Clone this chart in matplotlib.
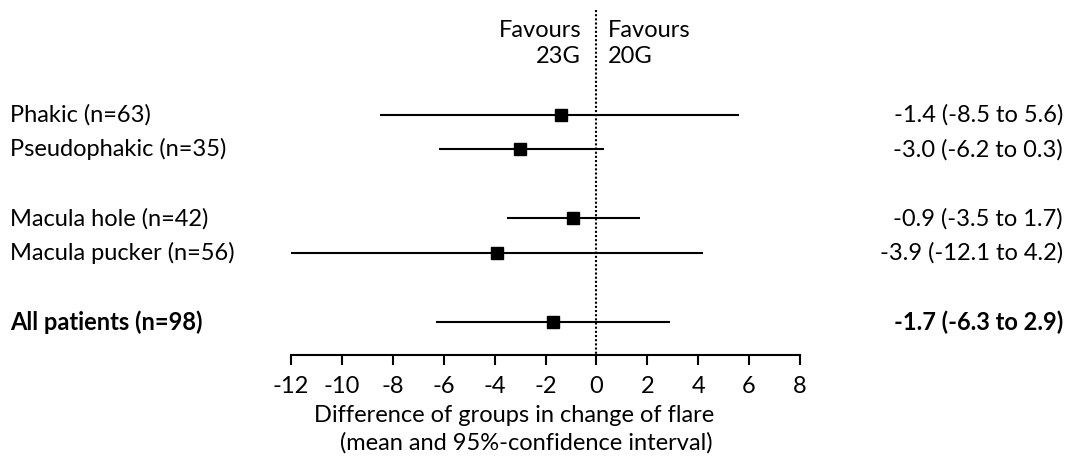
import matplotlib
matplotlib.use('Agg')
import matplotlib.pyplot as plt
import matplotlib.transforms as mtransforms

# data
labels = ['Phakic (n=63)', 'Pseudophakic (n=35)', 'Macula hole (n=42)',
          'Macula pucker (n=56)', 'All patients (n=98)']
means = [-1.4, -3.0, -0.9, -3.9, -1.7]
lower = [-8.5, -6.2, -3.5, -12.1, -6.3]
upper = [5.6, 0.3, 1.7, 4.2, 2.9]
rows = [0, 1, 3, 4, 6]
bold = [False, False, False, False, True]
xticks = list(range(-12, 9, 2))

plt.rcParams['font.family'] = ['Lato', 'DejaVu Sans']
fs = 17

fig = plt.figure(figsize=(10.73, 4.61), dpi=100)
W, H = 1073, 461
ax = fig.add_axes([291 / W, (H - 355) / H, 509 / W, 355 / H])

for r, m, lo, hi in zip(rows, means, lower, upper):
    ax.plot([lo, hi], [r, r], color='black', lw=1.5, solid_capstyle='butt')
    ax.plot(m, r, marker='s', color='black', markersize=8.5)

# line of no difference
ax.plot([0, 0], [-3.05, 7.0], color='black', lw=1.5, linestyle=(0, (1, 1)))

ax.set_xlim(-12, 8)
ax.set_ylim(6.96, -3.33)
ax.set_xticks(xticks)
ax.set_xticklabels([str(t) for t in xticks])
ax.set_yticks([])
for s in ['top', 'left', 'right']:
    ax.spines[s].set_visible(False)
ax.spines['bottom'].set_linewidth(1.5)
ax.tick_params(axis='x', direction='out', length=7, width=1.5, labelsize=fs, pad=8)

# axis title, two lines
fig.text(514 / W, 1 - 416 / H, 'Difference of groups in change of flare',
         ha='center', va='center', fontsize=fs)
fig.text(526 / W, 1 - 443 / H, '(mean and 95%-confidence interval)',
         ha='center', va='center', fontsize=fs)

trans = mtransforms.blended_transform_factory(fig.transFigure, ax.transData)
for lab, r, m, lo, hi, b in zip(labels, rows, means, lower, upper, bold):
    w = 'bold' if b else 'normal'
    ax.text(10 / W, r, lab, transform=trans, ha='left', va='center', fontsize=fs, fontweight=w)
    ax.text(1063 / W, r, '%.1f (%.1f to %.1f)' % (m, lo, hi), transform=trans,
            ha='right', va='center', fontsize=fs, fontweight=w)

ax.text(-0.6, -2.08, 'Favours\n23G', ha='right', va='center', fontsize=fs, linespacing=1.3)
ax.text(0.45, -2.08, 'Favours\n20G', ha='left', va='center', fontsize=fs, linespacing=1.3)

fig.savefig('out.png', dpi=100)
